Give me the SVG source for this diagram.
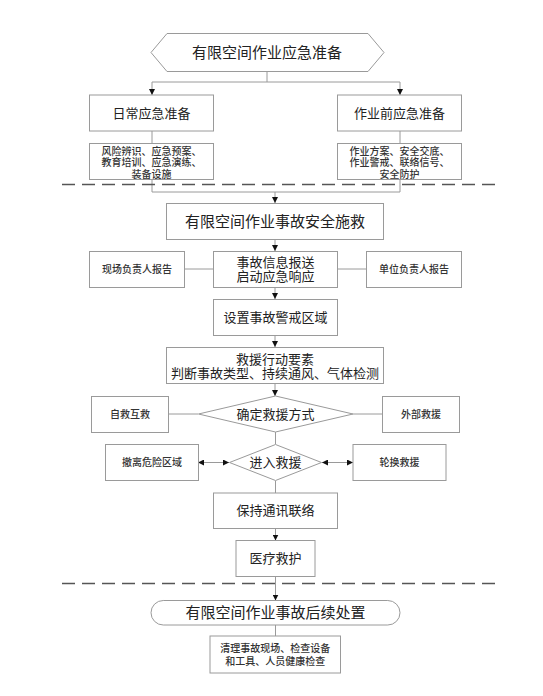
<svg xmlns="http://www.w3.org/2000/svg" width="543" height="696" viewBox="0 0 543 696">
<style>
.b{fill:#fff;stroke:#9a9a9a;stroke-width:1}
.t{font-family:"Noto Sans CJK SC","Noto Sans",sans-serif;fill:#222;text-anchor:middle}
.l{font-size:15px}
.m{font-size:13px}
.s{font-size:10px;font-weight:500;fill:#333}
.c{fill:none;stroke:#9a9a9a;stroke-width:1}
.d{fill:none;stroke:#555;stroke-width:1.6;stroke-dasharray:13,7}
</style>
<defs>
<marker id="a" viewBox="0 0 10 10" refX="10" refY="5" markerWidth="6" markerHeight="6" orient="auto" markerUnits="userSpaceOnUse">
<path d="M0,0L10,5L0,10z" fill="#111"/>
</marker>
</defs>
<rect width="543" height="696" fill="#fff"/>
<g id="connectors">
<path class="c" d="M267,72V82M152,82H400"/>
<path class="c" d="M152,82V95" marker-end="url(#a)"/>
<path class="c" d="M400,82V95" marker-end="url(#a)"/>
<path class="c" d="M152,131V143M400,131V143M152,179V192H400V179"/>
<path class="c" d="M275,192V203" marker-end="url(#a)"/>
<path class="c" d="M275,239V251" marker-end="url(#a)"/>
<path class="c" d="M184,269H213M337,269H367" stroke="#ccc"/>
<path class="c" d="M275,287V299" marker-end="url(#a)"/>
<path class="c" d="M275,336V347" marker-end="url(#a)"/>
<path class="c" d="M275,384V396" marker-end="url(#a)"/>
<path class="c" d="M168,414H198M353,414H382"/>
<path class="c" d="M275.5,432V444"/>
<path class="c" d="M214,462.5H198" marker-end="url(#a)"/>
<path class="c" d="M214,462.5H229" marker-end="url(#a)"/>
<path class="c" d="M337,462.5H322" marker-end="url(#a)"/>
<path class="c" d="M337,462.5H353" marker-end="url(#a)"/>
<path class="c" d="M275.5,481V493"/>
<path class="c" d="M275.5,528V540.5" marker-end="url(#a)"/>
<path class="c" d="M275.5,577V600.5" marker-end="url(#a)"/>
<path class="c" d="M275.5,625V636"/>
</g>
<path class="d" d="M62,184.5H497"/>
<path class="d" d="M62,583.5H497"/>
<g id="n1"><path class="b" d="M151,52.5L167,33.5H368L384,52.5L368,71.5H167z"/><text class="t l" x="267" y="58">有限空间作业应急准备</text></g>
<g id="n2"><rect class="b" x="89.5" y="95" width="124" height="36"/><text class="t m" x="151.5" y="117.5">日常应急准备</text></g>
<g id="n3"><rect class="b" x="337.5" y="95" width="124" height="36"/><text class="t m" x="399.5" y="117.5">作业前应急准备</text></g>
<g id="n4"><rect class="b" x="89.5" y="143.5" width="124" height="36"/><text class="t s" x="151.5" y="154.5">风险辨识、应急预案、<tspan x="151.5" dy="11.7">教育培训、应急演练、</tspan><tspan x="151.5" dy="11.7">装备设施</tspan></text></g>
<g id="n5"><rect class="b" x="337.5" y="143.5" width="124" height="36"/><text class="t s" x="399.5" y="154.5">作业方案、安全交底、<tspan x="399.5" dy="11.7">作业警戒、联络信号、</tspan><tspan x="399.5" dy="11.7">安全防护</tspan></text></g>
<g id="n6"><rect class="b" x="166.5" y="203.5" width="217" height="36"/><text class="t l" x="275" y="227">有限空间作业事故安全施救</text></g>
<g id="n7"><rect class="b" x="213.5" y="251.5" width="124" height="36"/><text class="t m" x="275.5" y="266.5">事故信息报送<tspan x="275.5" dy="14.5">启动应急响应</tspan></text></g>
<g id="n8"><rect class="b" x="89.5" y="251.5" width="95" height="36"/><text class="t s" x="137" y="273">现场负责人报告</text></g>
<g id="n9"><rect class="b" x="366.5" y="251.5" width="95" height="36"/><text class="t s" x="414" y="273">单位负责人报告</text></g>
<g id="n10"><rect class="b" x="213.5" y="299.5" width="124" height="36"/><text class="t m" x="275.5" y="322">设置事故警戒区域</text></g>
<g id="n11"><rect class="b" x="166.5" y="347.5" width="217" height="36"/><text class="t m" x="275" y="364">救援行动要素<tspan x="275" dy="13.5">判断事故类型、持续通风、气体检测</tspan></text></g>
<g id="n12"><path class="b" d="M198.5,414L275.5,396L353,414L275.5,432z"/><text class="t m" x="275.5" y="418.5">确定救援方式</text></g>
<g id="n13"><rect class="b" x="91.5" y="396.5" width="77" height="36"/><text class="t s" x="130" y="418">自救互救</text></g>
<g id="n14"><rect class="b" x="382.5" y="396.5" width="77" height="36"/><text class="t s" x="421" y="418">外部救援</text></g>
<g id="n15"><path class="b" d="M229.5,462.5L275.5,444.5L321.5,462.5L275.5,480.5z"/><text class="t m" x="275.5" y="467">进入救援</text></g>
<g id="n16"><rect class="b" x="105.5" y="444.5" width="93" height="36"/><text class="t s" x="152" y="466">撤离危险区域</text></g>
<g id="n17"><rect class="b" x="353" y="444.5" width="93" height="36"/><text class="t s" x="399.5" y="466">轮换救援</text></g>
<g id="n18"><rect class="b" x="213.5" y="493" width="124" height="35.5"/><text class="t m" x="275.5" y="515">保持通讯联络</text></g>
<g id="n19"><rect class="b" x="236" y="540.5" width="79" height="36"/><text class="t m" x="275.5" y="563">医疗救护</text></g>
<g id="n20"><rect class="b" x="151" y="600.5" width="249" height="24.5" rx="12.25"/><text class="t l" x="275.5" y="618">有限空间作业事故后续处置</text></g>
<g id="n21"><rect class="b" x="210" y="636" width="130.5" height="37"/><text class="t s" x="275.2" y="652">清理事故现场、检查设备<tspan x="275.2" dy="12.5">和工具、人员健康检查</tspan></text></g>
</svg>
